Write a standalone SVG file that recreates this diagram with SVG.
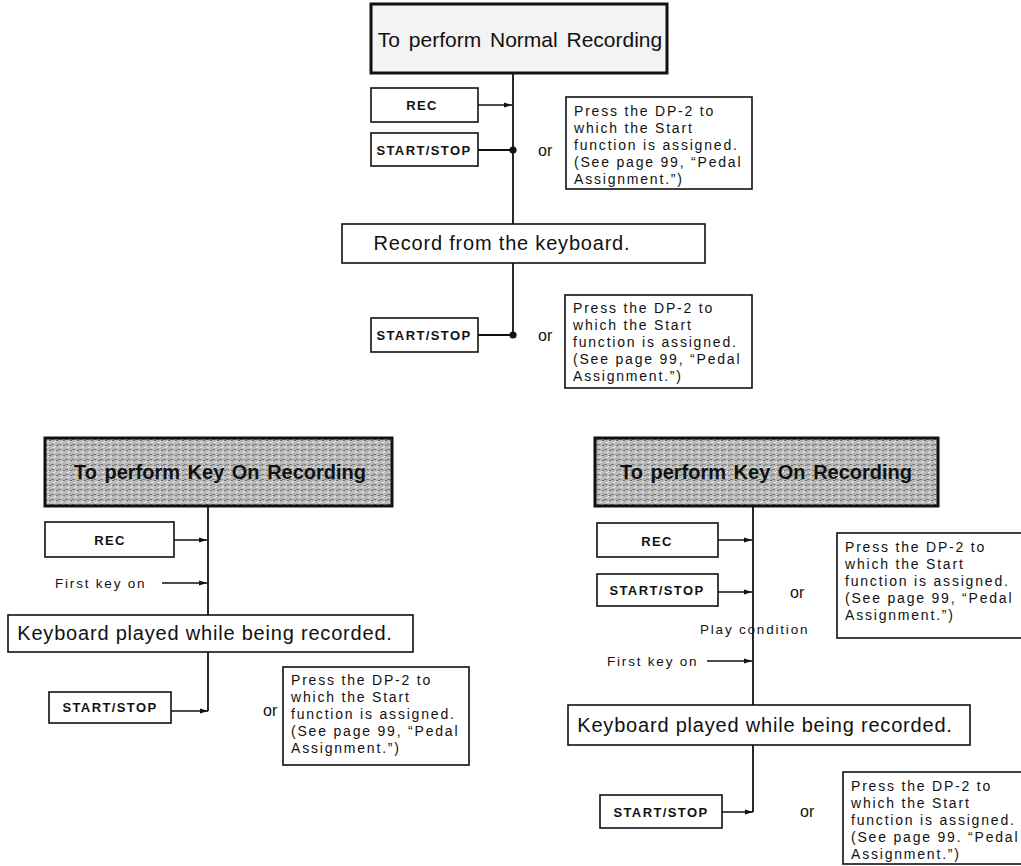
<svg xmlns="http://www.w3.org/2000/svg" width="1021" height="866" viewBox="0 0 1021 866">
<defs>
<marker id="arr" viewBox="0 0 8 6" refX="8" refY="3" markerWidth="8" markerHeight="6" markerUnits="userSpaceOnUse" orient="auto">
<path d="M0,0.5 L8,3 L0,5.5 z" fill="#111"/>
</marker>
<pattern id="speck" width="7" height="5" patternUnits="userSpaceOnUse">
<rect width="7" height="5" fill="#b9b9b9"/>
<rect x="0" y="0" width="2" height="1" fill="#6e6e6e"/>
<rect x="4" y="2" width="2" height="1" fill="#e8e8e8"/>
<rect x="2" y="4" width="3" height="1" fill="#7a7a7a"/>
<rect x="6" y="1" width="1" height="1" fill="#f0f0f0"/>
</pattern>
</defs>
<style>
text{font-family:"Liberation Sans",Arial,sans-serif;fill:#111}
.box{fill:#fff;stroke:#111;stroke-width:1.6}
.tbox{stroke:#111;stroke-width:3}
.btn{font-weight:bold;font-size:13px;letter-spacing:1.4px;text-anchor:middle}
.big{font-size:20px;letter-spacing:0.8px;text-anchor:middle}
.ttl{font-size:20px;font-weight:bold;text-anchor:middle;word-spacing:2px}
.note{font-size:14px;letter-spacing:1.8px}
.or{font-size:16px}
.lbl{font-size:13.5px;letter-spacing:1.8px}
.c{fill:none;stroke:#111;stroke-width:1.8}
.ca{fill:none;stroke:#111;stroke-width:1.5;marker-end:url(#arr)}
</style>

<g id="connectors">
<line class="c" x1="513" y1="73" x2="513" y2="224"/>
<line class="ca" x1="478" y1="105" x2="512" y2="105"/>
<line class="c" x1="478" y1="150" x2="513" y2="150"/>
<circle cx="513" cy="150" r="3.6" fill="#111"/>
<line class="c" x1="513" y1="263" x2="513" y2="335"/>
<line class="c" x1="478" y1="335" x2="513" y2="335"/>
<circle cx="513" cy="335" r="3.6" fill="#111"/>

<line class="c" x1="208" y1="506" x2="208" y2="615"/>
<line class="ca" x1="174" y1="540" x2="207" y2="540"/>
<line class="ca" x1="162" y1="583" x2="207" y2="583"/>
<line class="c" x1="208" y1="652" x2="208" y2="711"/>
<line class="ca" x1="171" y1="711" x2="208" y2="711"/>

<line class="c" x1="753" y1="506" x2="753" y2="705"/>
<line class="ca" x1="718" y1="540" x2="752" y2="540"/>
<line class="ca" x1="718" y1="592" x2="752" y2="592"/>
<line class="ca" x1="707" y1="661" x2="752" y2="661"/>
<line class="c" x1="753" y1="745" x2="753" y2="812"/>
<line class="ca" x1="722" y1="812" x2="753" y2="812"/>
</g>

<g id="title-normal">
<rect class="tbox" x="371" y="4" width="296" height="69" fill="#f3f3f3"/>
<text x="520" y="47" font-size="21" text-anchor="middle" word-spacing="3">To perform Normal Recording</text>
</g>
<g id="rec-1"><rect class="box" x="371" y="88" width="107" height="34"/><text class="btn" x="422" y="110">REC</text></g>
<g id="startstop-1"><rect class="box" x="371" y="133" width="107" height="33"/><text class="btn" x="424" y="155">START/STOP</text></g>
<g id="or-1"><text class="or" x="538" y="156">or</text></g>
<g id="press-1">
<rect class="box" x="566" y="97" width="186" height="92"/>
<text class="note"><tspan x="574" y="116">Press the DP-2 to</tspan><tspan x="574" y="133">which the Start</tspan><tspan x="574" y="150">function is assigned.</tspan><tspan x="574" y="167">(See page 99, “Pedal</tspan><tspan x="574" y="184">Assignment.”)</tspan></text>
</g>
<g id="record-kbd"><rect class="box" x="342" y="224" width="363" height="39"/><text class="big" x="502" y="250">Record from the keyboard.</text></g>
<g id="startstop-2"><rect class="box" x="371" y="318" width="107" height="34"/><text class="btn" x="424" y="340">START/STOP</text></g>
<g id="or-2"><text class="or" x="538" y="341">or</text></g>
<g id="press-2">
<rect class="box" x="565" y="295" width="187" height="93"/>
<text class="note"><tspan x="573" y="313">Press the DP-2 to</tspan><tspan x="573" y="330">which the Start</tspan><tspan x="573" y="347">function is assigned.</tspan><tspan x="573" y="364">(See page 99, “Pedal</tspan><tspan x="573" y="381">Assignment.”)</tspan></text>
</g>

<g id="title-keyon-left">
<rect class="tbox" x="45" y="438" width="347" height="68" fill="url(#speck)"/>
<text class="ttl" x="220" y="479">To perform Key On Recording</text>
</g>
<g id="rec-2"><rect class="box" x="45" y="522" width="129" height="35"/><text class="btn" x="110" y="545">REC</text></g>
<g id="firstkey-1"><text class="lbl" x="55" y="588">First key on</text></g>
<g id="kbd-left"><rect class="box" x="8" y="615" width="405" height="37"/><text class="big" x="205" y="640">Keyboard played while being recorded.</text></g>
<g id="startstop-3"><rect class="box" x="49" y="692" width="122" height="31"/><text class="btn" x="110" y="712">START/STOP</text></g>
<g id="or-3"><text class="or" x="263" y="716">or</text></g>
<g id="press-3">
<rect class="box" x="283" y="667" width="186" height="98"/>
<text class="note"><tspan x="291" y="685">Press the DP-2 to</tspan><tspan x="291" y="702">which the Start</tspan><tspan x="291" y="719">function is assigned.</tspan><tspan x="291" y="736">(See page 99, “Pedal</tspan><tspan x="291" y="753">Assignment.”)</tspan></text>
</g>

<g id="title-keyon-right">
<rect class="tbox" x="595" y="438" width="343" height="68" fill="url(#speck)"/>
<text class="ttl" x="766" y="479">To perform Key On Recording</text>
</g>
<g id="rec-3"><rect class="box" x="597" y="523" width="121" height="34"/><text class="btn" x="657" y="546">REC</text></g>
<g id="startstop-4"><rect class="box" x="597" y="574" width="121" height="32"/><text class="btn" x="657" y="595">START/STOP</text></g>
<g id="or-4"><text class="or" x="790" y="598">or</text></g>
<g id="press-4">
<rect class="box" x="837" y="533" width="190" height="105"/>
<text class="note"><tspan x="845" y="552">Press the DP-2 to</tspan><tspan x="845" y="569">which the Start</tspan><tspan x="845" y="586">function is assigned.</tspan><tspan x="845" y="603">(See page 99, “Pedal</tspan><tspan x="845" y="620">Assignment.”)</tspan></text>
</g>
<g id="play-condition"><text class="lbl" x="700" y="634" letter-spacing="1.2">Play condition</text></g>
<g id="firstkey-2"><text class="lbl" x="607" y="666">First key on</text></g>
<g id="kbd-right"><rect class="box" x="568" y="705" width="402" height="40"/><text class="big" x="765" y="732">Keyboard played while being recorded.</text></g>
<g id="startstop-5"><rect class="box" x="600" y="795" width="122" height="33"/><text class="btn" x="661" y="817">START/STOP</text></g>
<g id="or-5"><text class="or" x="800" y="817">or</text></g>
<g id="press-5">
<rect class="box" x="843" y="772" width="184" height="92"/>
<text class="note"><tspan x="851" y="791">Press the DP-2 to</tspan><tspan x="851" y="808">which the Start</tspan><tspan x="851" y="825">function is assigned.</tspan><tspan x="851" y="842">(See page 99. “Pedal</tspan><tspan x="851" y="859">Assignment.”)</tspan></text>
</g>
</svg>
